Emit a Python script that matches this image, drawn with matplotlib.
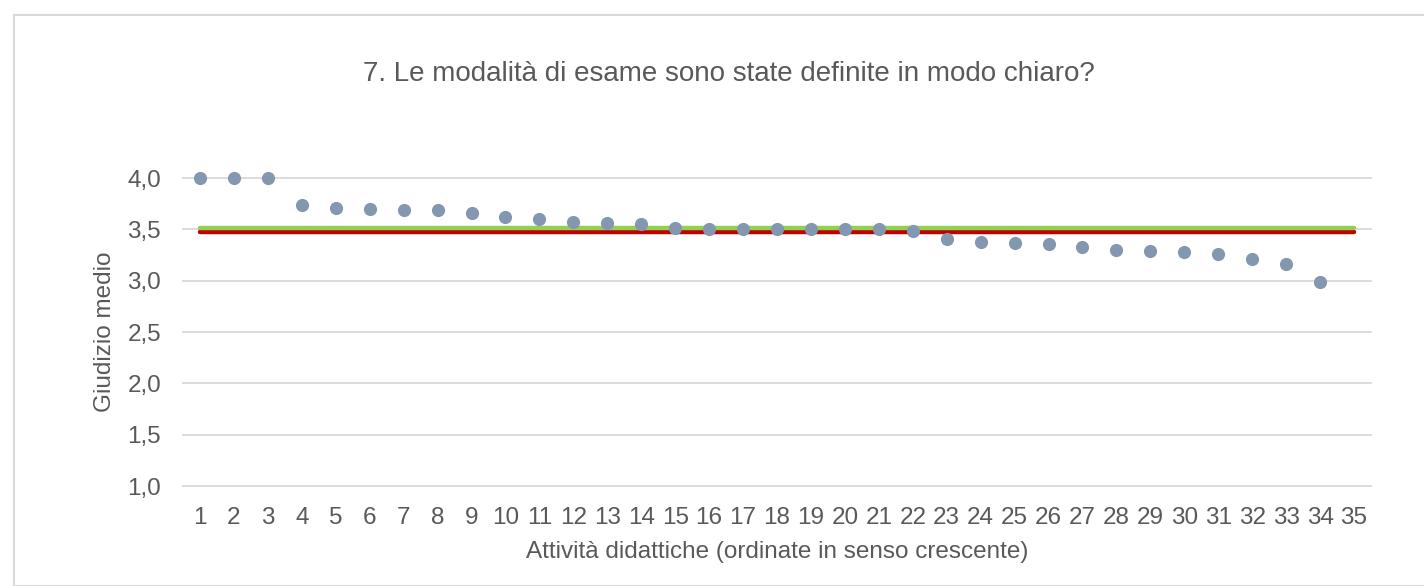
import matplotlib.pyplot as plt
from matplotlib.patches import Rectangle

plt.rcParams["font.family"] = ["Liberation Sans", "DejaVu Sans"]

# average score per teaching activity (activity 35 has no value)
activities = list(range(1, 36))
scores = [4.00, 4.00, 4.00, 3.74, 3.71, 3.70, 3.69, 3.69, 3.66, 3.62,
          3.60, 3.57, 3.56, 3.55, 3.51, 3.50, 3.50, 3.50, 3.50, 3.50,
          3.50, 3.48, 3.41, 3.38, 3.37, 3.36, 3.33, 3.30, 3.29, 3.28,
          3.26, 3.21, 3.16, 2.99]
green_ref = 3.50
red_ref = 3.47
y_ticks = [1.0, 1.5, 2.0, 2.5, 3.0, 3.5, 4.0]

text_color = "#595959"
grid_color = "#d9d9d9"

fig = plt.figure(figsize=(14.24, 5.86), dpi=100)
W, H = 1424, 586

# chart frame
fig.patches.append(Rectangle((13.5 / W, 0), 2, 1 - 14.5 / H, transform=fig.transFigure,
                             fill=False, edgecolor=grid_color, linewidth=1.5))

ax = fig.add_axes([183 / W, 1 - 486 / H, (1371 - 183) / W, (486 - 178) / H])

n_pts = len(scores)
# reference lines drawn from the first to the last point
ax.plot([activities[0], activities[-1]], [red_ref, red_ref], color="#c00000",
        linewidth=3.2, solid_capstyle="round", zorder=3)
ax.plot([activities[0], activities[-1]], [green_ref + 0.01, green_ref + 0.01], color="#92d050",
        linewidth=3.2, solid_capstyle="round", zorder=3)
ax.scatter(activities[:n_pts], scores, s=90, color="#8497b0", zorder=4, linewidths=0,
           clip_on=False)

ax.set_xlim(0.5, 35.5)
ax.set_ylim(1.0, 4.0)
ax.set_xticks(activities)
ax.set_xticklabels([str(a) for a in activities])
ax.set_yticks(y_ticks)
ax.set_yticklabels([f"{v:.1f}".replace(".", ",") for v in y_ticks])
ax.tick_params(length=0, labelsize=17.5, colors=text_color)
ax.tick_params(axis="x", pad=15)
ax.tick_params(axis="y", pad=15.8)
for s in ax.spines.values():
    s.set_visible(False)
ax.grid(axis="y", color=grid_color, linewidth=1.3, clip_on=False)
ax.set_axisbelow(True)

ax.set_ylabel("Giudizio medio", fontsize=17.5, color=text_color, labelpad=8)
ax.set_xlabel("Attività didattiche (ordinate in senso crescente)", fontsize=17.5,
              color=text_color, labelpad=9)
fig.text(729 / W, 1 - 74 / H, "7. Le modalità di esame sono state definite in modo chiaro?",
         ha="center", va="center", fontsize=20, color=text_color)

fig.savefig("out.png", dpi=100)
